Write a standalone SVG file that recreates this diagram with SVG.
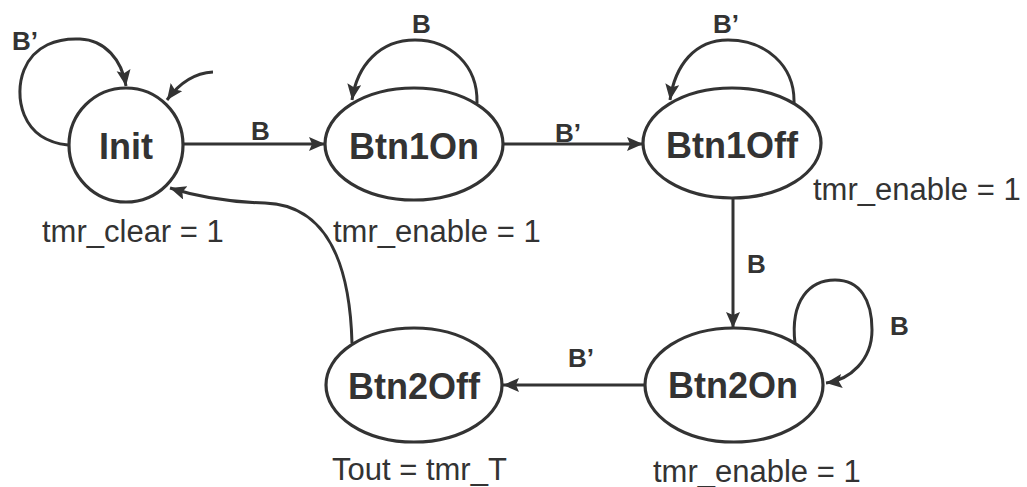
<svg xmlns="http://www.w3.org/2000/svg" width="1027" height="487" viewBox="0 0 1027 487">
  <style>
    .state { fill: #ffffff; stroke: #333333; stroke-width: 3.2; }
    .name { font-family: "Liberation Sans", Arial, sans-serif; font-weight: bold; font-size: 36px; fill: #333333; text-anchor: middle; }
    .cond { font-family: "Liberation Sans", Arial, sans-serif; font-weight: bold; font-size: 26px; fill: #333333; }
    .out { font-family: "Liberation Sans", Arial, sans-serif; font-size: 31px; fill: #333333; }
    .edge { fill: none; stroke: #333333; stroke-width: 3; marker-end: url(#arrow); }
  </style>
  <defs>
    <marker id="arrow" markerUnits="userSpaceOnUse" markerWidth="18" markerHeight="16" refX="16" refY="7" orient="auto">
      <path d="M0,0 L16,7 L0,14 L3,7 z" fill="#333333"/>
    </marker>
  </defs>
  <rect width="1027" height="487" fill="#ffffff"/>

  <!-- transitions -->
  <g id="connectors">
    <path class="edge" d="M213,72 C195,73 180,82 167,100"/>
    <path class="edge" d="M68,145 C20,140 14,95 24,70 C34,45 58,38 80,39 C105,40 122,60 126,86"/>
    <path class="edge" d="M183,144 L325,144"/>
    <path class="edge" d="M477,103 C478,65 450,40 415,40 C380,40 357,65 352,100"/>
    <path class="edge" d="M503,144 L643,144"/>
    <path class="edge" d="M794,103 C795,65 765,40 728,40 C695,40 675,65 670,100"/>
    <path class="edge" d="M733,198 L733,328"/>
    <path class="edge" d="M795,343 C790,300 810,280 835,280 C860,280 872,300 872,330 C872,360 850,380 826,383"/>
    <path class="edge" d="M645,385 L503,385"/>
    <path class="edge" d="M352,343 C350,270 330,205 265,203 C225,202 195,196 170,188"/>

    <text class="cond" x="12" y="50">B’</text>
    <text class="cond" x="251" y="140">B</text>
    <text class="cond" x="412" y="33">B</text>
    <text class="cond" x="555" y="142">B’</text>
    <text class="cond" x="713" y="33">B’</text>
    <text class="cond" x="747" y="273">B</text>
    <text class="cond" x="890" y="335">B</text>
    <text class="cond" x="568" y="367">B’</text>
  </g>

  <!-- states -->
  <g id="Init">
    <circle class="state" cx="126" cy="145" r="57"/>
    <text class="name" x="126" y="159">Init</text>
    <text class="out" x="42" y="242">tmr_clear = 1</text>
  </g>
  <g id="Btn1On">
    <ellipse class="state" cx="414" cy="144" rx="89" ry="56"/>
    <text class="name" x="414" y="159">Btn1On</text>
    <text class="out" x="333" y="242">tmr_enable = 1</text>
  </g>
  <g id="Btn1Off">
    <ellipse class="state" cx="732" cy="143" rx="89" ry="55"/>
    <text class="name" x="732" y="158">Btn1Off</text>
    <text class="out" x="813" y="200">tmr_enable = 1</text>
  </g>
  <g id="Btn2On">
    <ellipse class="state" cx="734" cy="385" rx="89" ry="57"/>
    <text class="name" x="733" y="398">Btn2On</text>
    <text class="out" x="653" y="482">tmr_enable = 1</text>
  </g>
  <g id="Btn2Off">
    <ellipse class="state" cx="414" cy="385" rx="88" ry="57"/>
    <text class="name" x="414" y="399">Btn2Off</text>
    <text class="out" x="332" y="480">Tout = tmr_T</text>
  </g>
</svg>
